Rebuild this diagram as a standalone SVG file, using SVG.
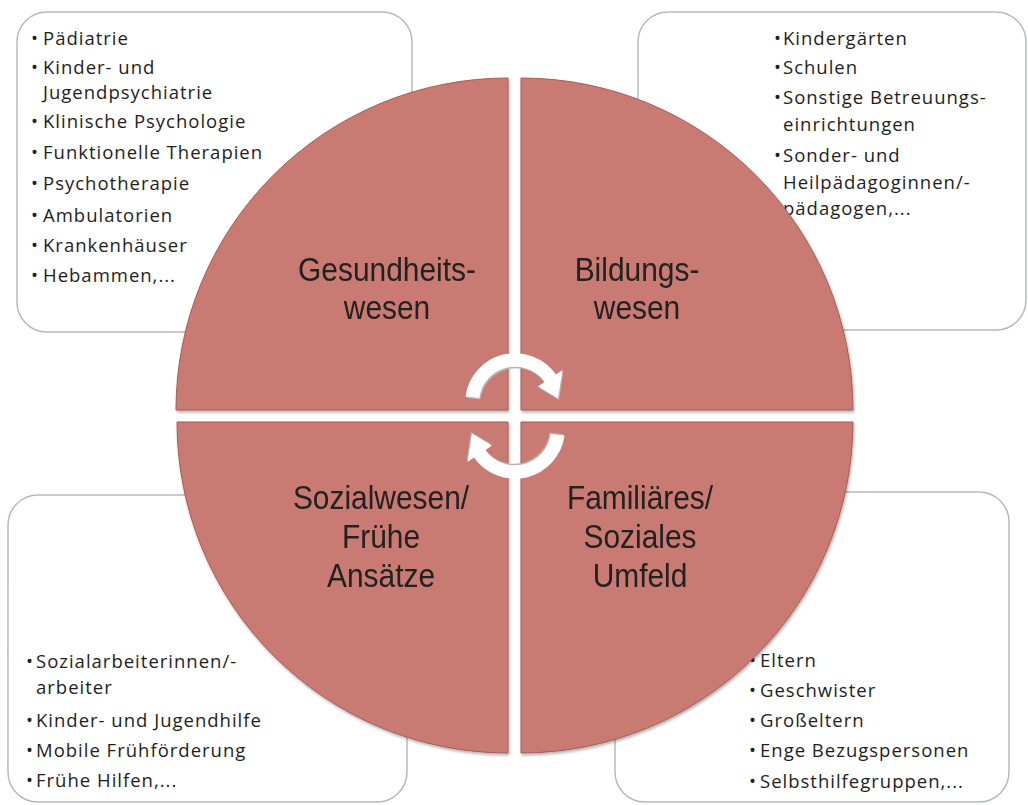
<svg xmlns="http://www.w3.org/2000/svg" width="1028" height="805" viewBox="0 0 1028 805">
<style>
.box{fill:#fff;stroke:#b5b9bf;stroke-width:1.5}
.q{fill:#c97a72;stroke:#a35d55;stroke-width:1}
.t{font-family:"Open Sans","Liberation Sans",sans-serif;font-size:18.5px;letter-spacing:1px;fill:#1e1e1e}
.big{font-family:"Liberation Sans",Arial,sans-serif;font-size:34px;fill:#222;text-anchor:middle}
.arr{fill:#fff}
.arrs{fill:#b9b3b2}
</style>
<defs>
<filter id="sh" x="-5%" y="-5%" width="110%" height="110%">
<feDropShadow dx="1" dy="2" stdDeviation="1.5" flood-color="#000" flood-opacity="0.3"/>
</filter>
<path id="arrow" d="M465.5,396.5 A50,50 0 0 1 556,374.5 L562.5,370 L558,398.5 L538,386.5 L544.5,382 A36,36 0 0 0 479.35,397.99 Z"/>
</defs>
<rect width="1028" height="805" fill="#fff"/>

<g id="box-gesundheit">
<rect class="box" x="17" y="12" width="395" height="320" rx="30"/>
<text class="t" y="45"><tspan x="31">•</tspan><tspan x="43">Pädiatrie</tspan></text>
<text class="t" y="74"><tspan x="31">•</tspan><tspan x="43">Kinder- und</tspan><tspan x="43" dy="25">Jugendpsychiatrie</tspan></text>
<text class="t" y="128"><tspan x="31">•</tspan><tspan x="43">Klinische Psychologie</tspan></text>
<text class="t" y="159"><tspan x="31">•</tspan><tspan x="43">Funktionelle Therapien</tspan></text>
<text class="t" y="190"><tspan x="31">•</tspan><tspan x="43">Psychotherapie</tspan></text>
<text class="t" y="222"><tspan x="31">•</tspan><tspan x="43">Ambulatorien</tspan></text>
<text class="t" y="252"><tspan x="31">•</tspan><tspan x="43">Krankenhäuser</tspan></text>
<text class="t" y="282"><tspan x="31">•</tspan><tspan x="43">Hebammen,...</tspan></text>
</g>

<g id="box-bildung">
<rect class="box" x="638" y="12" width="388" height="318" rx="30"/>
<text class="t" y="45"><tspan x="774">•</tspan><tspan x="783">Kindergärten</tspan></text>
<text class="t" y="74"><tspan x="774">•</tspan><tspan x="783">Schulen</tspan></text>
<text class="t" y="104"><tspan x="774">•</tspan><tspan x="783">Sonstige Betreuungs-</tspan><tspan x="783" dy="27">einrichtungen</tspan></text>
<text class="t" y="162"><tspan x="774">•</tspan><tspan x="783">Sonder- und</tspan><tspan x="783" dy="27">Heilpädagoginnen/-</tspan><tspan x="783" dy="26">pädagogen,...</tspan></text>
</g>

<g id="box-sozial">
<rect class="box" x="8" y="495" width="399" height="307" rx="30"/>
<text class="t" y="668"><tspan x="26">•</tspan><tspan x="36">Sozialarbeiterinnen/-</tspan><tspan x="36" dy="26">arbeiter</tspan></text>
<text class="t" y="727"><tspan x="26">•</tspan><tspan x="36">Kinder- und Jugendhilfe</tspan></text>
<text class="t" y="757"><tspan x="26">•</tspan><tspan x="36">Mobile Frühförderung</tspan></text>
<text class="t" y="787"><tspan x="26">•</tspan><tspan x="36">Frühe Hilfen,...</tspan></text>
</g>

<g id="box-familie">
<rect class="box" x="615" y="492" width="394" height="310" rx="30"/>
<text class="t" y="667"><tspan x="749">•</tspan><tspan x="760">Eltern</tspan></text>
<text class="t" y="697"><tspan x="749">•</tspan><tspan x="760">Geschwister</tspan></text>
<text class="t" y="727"><tspan x="749">•</tspan><tspan x="760">Großeltern</tspan></text>
<text class="t" y="757"><tspan x="749">•</tspan><tspan x="760">Enge Bezugspersonen</tspan></text>
<text class="t" y="788"><tspan x="749">•</tspan><tspan x="760">Selbsthilfegruppen,...</tspan></text>
</g>

<g id="quadrant-gesundheitswesen" filter="url(#sh)">
<path class="q" d="M508,410 L176,410 A332,332 0 0 1 508,78 Z"/>
<g transform="translate(387,0) scale(0.88,1)">
<text class="big" y="281"><tspan x="0">Gesundheits-</tspan><tspan x="0" dy="38.5">wesen</tspan></text>
</g>
</g>
<g id="quadrant-bildungswesen" filter="url(#sh)">
<path class="q" d="M521,410 L521,78 A332,332 0 0 1 853,410 Z"/>
<g transform="translate(637,0) scale(0.88,1)">
<text class="big" y="281"><tspan x="0">Bildungs-</tspan><tspan x="0" dy="38.5">wesen</tspan></text>
</g>
</g>
<g id="quadrant-sozialwesen" filter="url(#sh)">
<path class="q" d="M508,422 L508,753 A331,331 0 0 1 177,422 Z"/>
<g transform="translate(381,0) scale(0.88,1)">
<text class="big" y="509"><tspan x="0">Sozialwesen/</tspan><tspan x="0" dy="39">Frühe</tspan><tspan x="0" dy="39">Ansätze</tspan></text>
</g>
</g>
<g id="quadrant-familie" filter="url(#sh)">
<path class="q" d="M521,422 L853,422 A332,332 0 0 1 521,753 Z"/>
<g transform="translate(640,0) scale(0.88,1)">
<text class="big" y="509"><tspan x="0">Familiäres/</tspan><tspan x="0" dy="39">Soziales</tspan><tspan x="0" dy="39">Umfeld</tspan></text>
</g>
</g>

<g id="connectors">
<use href="#arrow" class="arrs" transform="translate(1,1.5)"/>
<use href="#arrow" class="arr"/>
<g transform="rotate(180 515 416)">
<use href="#arrow" class="arrs" transform="translate(1,1.5)"/>
<use href="#arrow" class="arr"/>
</g>
</g>
</svg>
